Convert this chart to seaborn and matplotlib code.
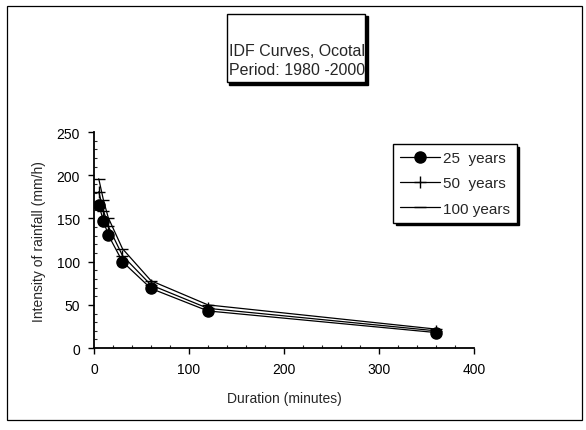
import pandas as pd
import numpy as np
import matplotlib
matplotlib.use('Agg')
import matplotlib.pyplot as plt
from matplotlib.patches import Rectangle
from matplotlib.ticker import MultipleLocator
import seaborn as sns

# IDF curves
durations = [5, 10, 15, 30, 60, 120, 360]
int_25 = [166, 147, 131, 100, 69, 43, 18]
int_50 = [181, 159, 141, 107, 73, 46, 20]
int_100 = [196, 171, 151, 115, 78, 50, 22]
periods = ['25  years', '50  years', '100 years']
markers = ['o', '+', '_']

sns.set_theme(style='white')
plt.rcParams['font.family'] = ['Liberation Sans', 'DejaVu Sans']

fig = plt.figure(figsize=(5.86, 4.31), dpi=100)
ax = fig.add_axes([0.1604, 0.190, 0.6485, 0.5012])

for vals, lab, mk in zip([int_25, int_50, int_100], periods, markers):
    sns.lineplot(x=durations, y=vals, color='black', marker=mk, label=lab,
                 linewidth=0.9, markersize=8 if mk == 'o' else 9,
                 markeredgecolor='black', markerfacecolor='black',
                 markeredgewidth=1, ax=ax)

ax.set_xlim(0, 400)
ax.set_ylim(0, 250)
ax.xaxis.set_major_locator(MultipleLocator(100))
ax.yaxis.set_major_locator(MultipleLocator(50))
ax.xaxis.set_minor_locator(MultipleLocator(20))
ax.yaxis.set_minor_locator(MultipleLocator(10))
ax.tick_params(which='major', direction='out', length=4, width=1, colors='black',
               labelsize=10, left=True, bottom=True, pad=6)
ax.tick_params(which='minor', direction='in', length=2.5, width=0.8, left=True, bottom=True)
for s in ['top', 'right']:
    ax.spines[s].set_visible(False)
for s in ['left', 'bottom']:
    ax.spines[s].set_color('black')
    ax.spines[s].set_linewidth(1.3)
ax.set_xlabel('Duration (minutes)', fontsize=10, labelpad=11)
ax.set_ylabel('Intensity of rainfall (mm/h)', fontsize=10, labelpad=8)

leg = ax.legend(loc='upper left', bbox_to_anchor=(393 / 586, 1 - 145 / 431),
                bbox_transform=fig.transFigure, frameon=True, fancybox=False,
                shadow={'color': 'black', 'alpha': 1, 'ox': 2, 'oy': -2},
                edgecolor='black', fontsize=11, handlelength=2.6, handletextpad=0.2,
                borderpad=0.45, borderaxespad=0, labelspacing=0.75)
leg.get_frame().set_linewidth(1)

# title box with shadow
def fig_rect(x0, y0, x1, y1, **kw):
    W, H = 586, 431
    r = Rectangle((x0 / W, 1 - y1 / H), (x1 - x0) / W, (y1 - y0) / H,
                  transform=fig.transFigure, **kw)
    fig.add_artist(r)

fig_rect(229, 17, 368, 86, facecolor='black', edgecolor='black', zorder=1)
fig_rect(227, 15, 365, 83, facecolor='white', edgecolor='black', linewidth=1, zorder=2)
fig.text(229 / 586, 1 - 61 / 431, 'IDF Curves, Ocotal\nPeriod: 1980 -2000',
         ha='left', va='center', fontsize=11.5, linespacing=1.3, zorder=3)

# chart border
fig_rect(7, 7, 582, 421, facecolor='none', edgecolor='black', linewidth=0.9, zorder=0)

fig.savefig('out.png', dpi=100)
